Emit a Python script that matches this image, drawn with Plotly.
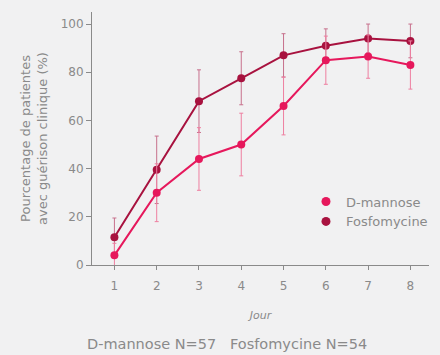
import plotly.graph_objects as go

days = [1, 2, 3, 4, 5, 6, 7, 8]
mannose = [4, 30, 44, 50, 66, 85, 86.5, 83]
mannose_err = [5, 12, 13, 13, 12, 10, 9, 10]
fosfo = [11.5, 39.5, 68, 77.5, 87, 91, 94, 93]
fosfo_err = [8, 14, 13, 11, 9, 7, 6, 7]
series_names = ["D-mannose", "Fosfomycine"]

c_man = "#e6185c"
c_fos = "#a8123f"
grey = "#8a8a8a"
FONT = "DejaVu Sans"

fig = go.Figure()
fig.add_trace(go.Scatter(
    x=days, y=fosfo, name=series_names[1], mode="lines+markers", showlegend=False,
    line=dict(color=c_fos, width=2), marker=dict(size=8, color=c_fos),
    error_y=dict(type="data", array=fosfo_err, color="#c7708c", thickness=1, width=2)))
fig.add_trace(go.Scatter(
    x=days, y=mannose, name=series_names[0], mode="lines+markers", showlegend=False,
    line=dict(color=c_man, width=2), marker=dict(size=8, color=c_man),
    error_y=dict(type="data", array=mannose_err, color="#ee7fa0", thickness=1, width=2)))
# legend entries (marker only)
fig.add_trace(go.Scatter(x=[None], y=[None], name=series_names[0], mode="markers",
                         marker=dict(size=9, color=c_man)))
fig.add_trace(go.Scatter(x=[None], y=[None], name=series_names[1], mode="markers",
                         marker=dict(size=9, color=c_fos)))

fig.update_layout(
    width=440, height=355,
    paper_bgcolor="#f1f1f2", plot_bgcolor="#f1f1f2",
    margin=dict(l=92, r=7, t=12, b=90),
    font=dict(family=FONT, color=grey, size=11),
    showlegend=True,
    legend=dict(x=0.635, y=0.31, xanchor="left", yanchor="top", bgcolor="rgba(0,0,0,0)",
                font=dict(size=13, color=grey, family=FONT), itemwidth=30,
                tracegroupgap=0),
    xaxis=dict(range=[0.47, 8.44], tickvals=days, showgrid=False, zeroline=False,
               showline=True, linecolor=grey, linewidth=1, ticks="outside", ticklen=4,
               tickcolor=grey, tickfont=dict(size=12, color=grey, family=FONT),
               ticklabelstandoff=6,
               title=dict(text="<i>Jour</i>", font=dict(size=11, color=grey, family=FONT),
                          standoff=18)),
    yaxis=dict(range=[0, 105], tickvals=[0, 20, 40, 60, 80, 100], showgrid=False, zeroline=False,
               showline=True, linecolor=grey, linewidth=1, ticks="outside", ticklen=5,
               tickcolor=grey, tickfont=dict(size=12, color=grey, family=FONT),
               title=dict(text="Pourcentage de patientes<br>avec guérison clinique (%)",
                          font=dict(size=13, color=grey, family=FONT), standoff=10)),
)
fig.add_annotation(text="D-mannose N=57   Fosfomycine N=54", xref="paper", yref="paper",
                   x=0.40, y=-0.313, showarrow=False, yanchor="middle", xanchor="center",
                   font=dict(size=14.5, color=grey, family=FONT))
fig.write_html("out.html", config={"displayModeBar": False},
               post_script="document.body.style.margin='0';")
